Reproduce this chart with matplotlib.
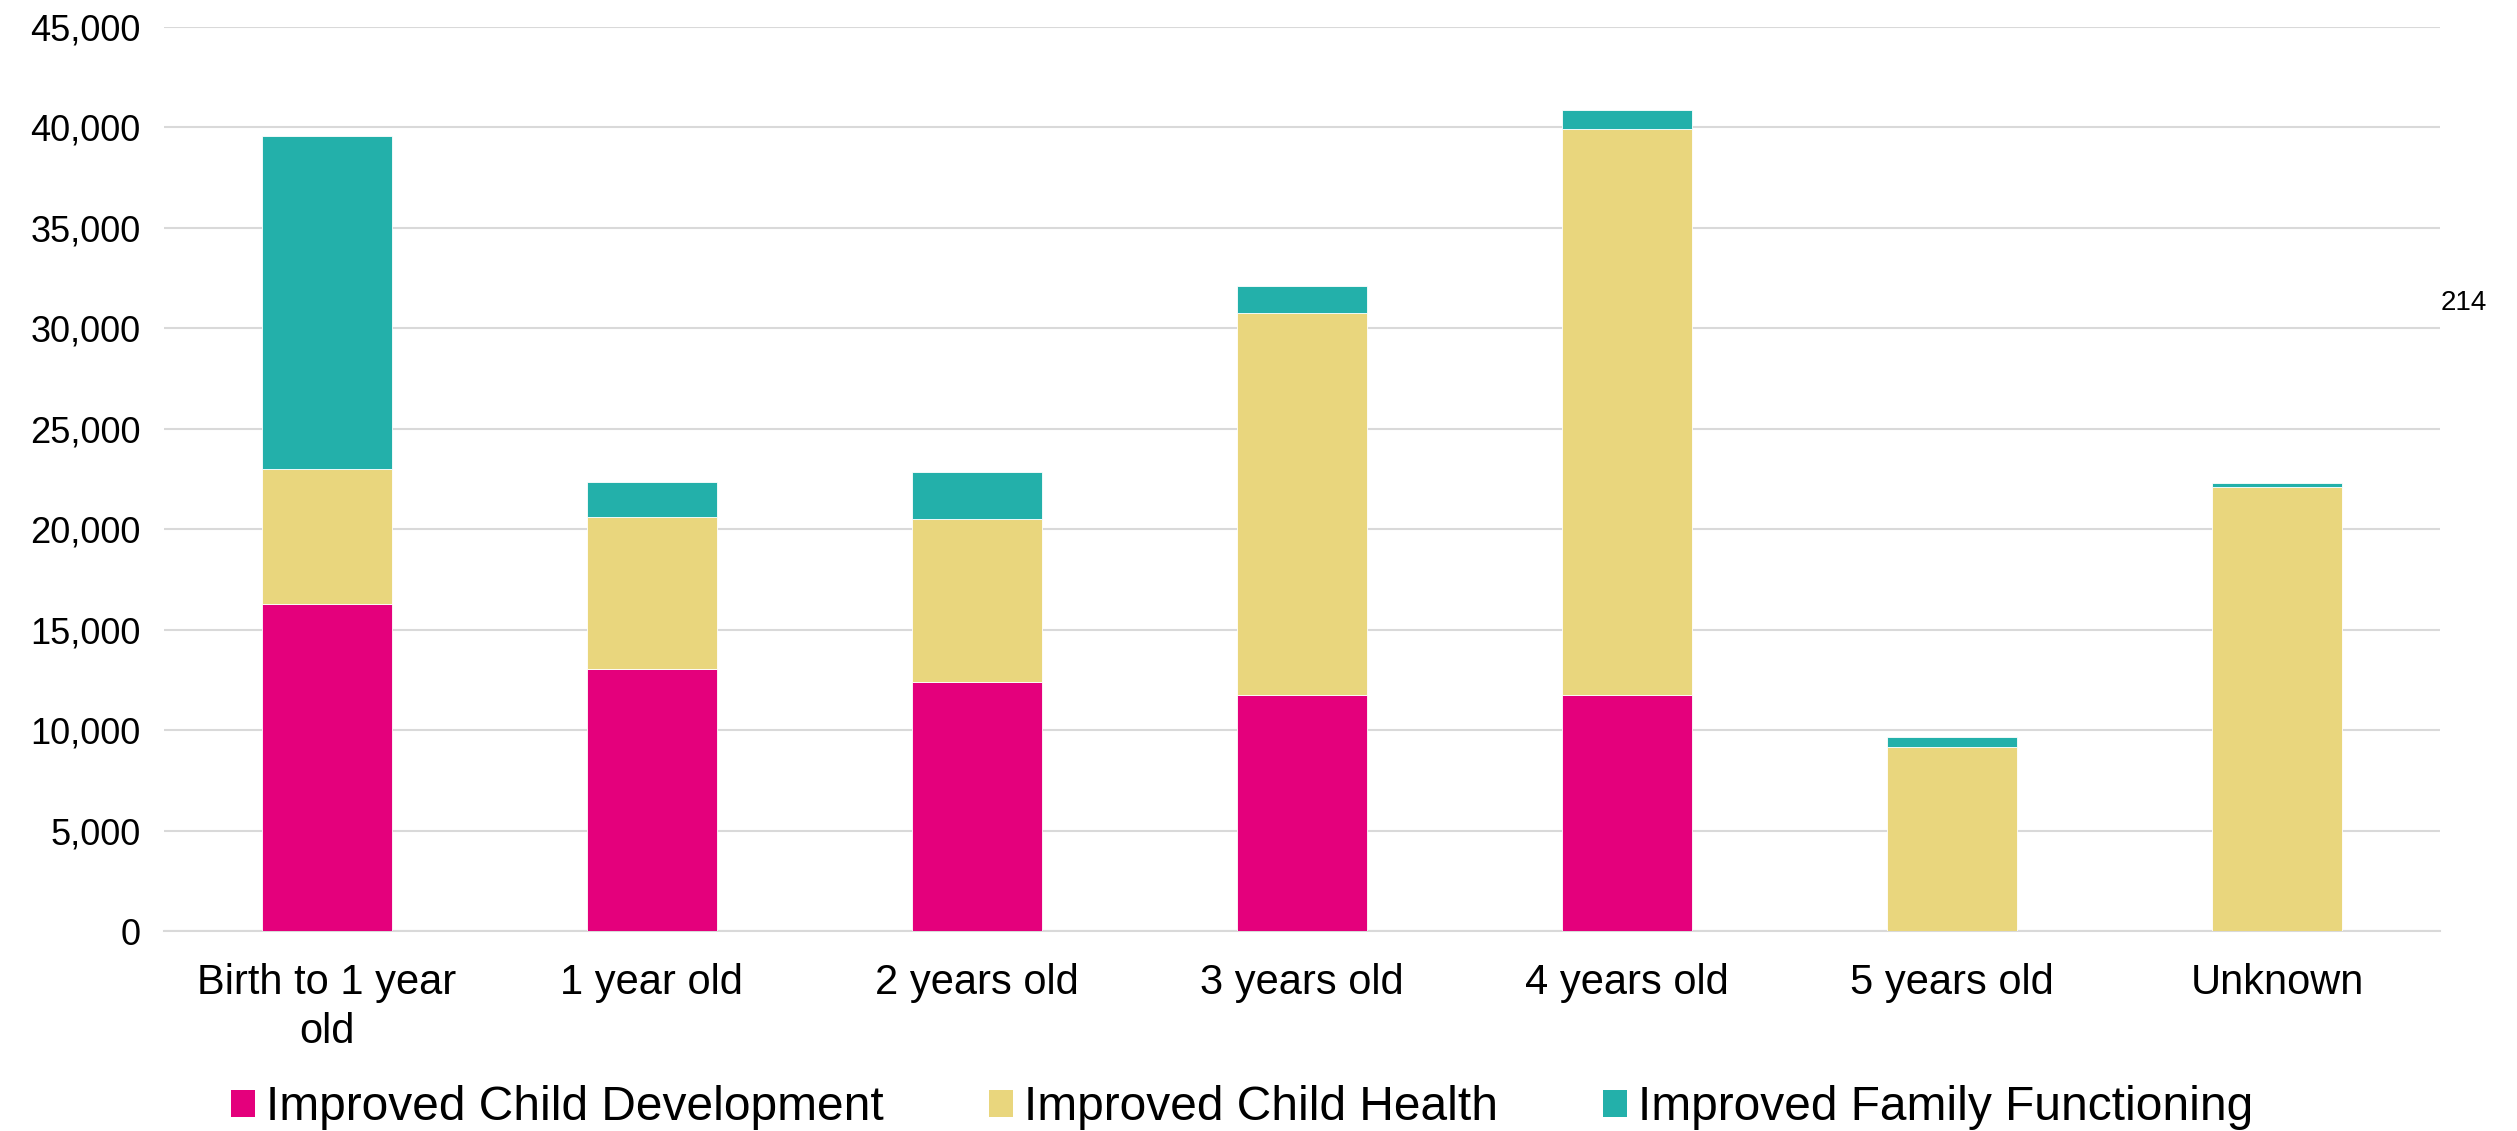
import matplotlib
matplotlib.use("Agg")
import matplotlib.pyplot as plt
from matplotlib.patches import Patch
import numpy as np

plt.rcParams['font.family'] = ['Liberation Sans', 'DejaVu Sans']

# data
categories = ["Birth to 1 year\nold", "1 year old", "2 years old", "3 years old",
              "4 years old", "5 years old", "Unknown"]
child_dev = [16300, 13050, 12400, 11770, 11770, 0, 0]
child_health = [6700, 7570, 8100, 19010, 28130, 9140, 22090]
family_func = [16580, 1740, 2330, 1320, 980, 500, 214]
series_names = ["Improved Child Development", "Improved Child Health",
                "Improved Family Functioning"]
colors = ["#E4007C", "#E9D67D", "#23B0AA"]
yticks = np.arange(0, 45001, 5000)

fig = plt.figure(figsize=(25.17, 11.31), dpi=100)
ax = fig.add_axes([0.0652, 0.1768, 0.9042, 0.7993])

x = np.arange(len(categories))
bottom = np.zeros(len(categories))
for vals, col in zip([child_dev, child_health, family_func], colors):
    ax.bar(x, vals, width=0.4, bottom=bottom, color=col, edgecolor="white",
           linewidth=0.6, zorder=3)
    bottom += np.array(vals)

ax.set_xlim(-0.5, len(categories) - 0.5)
ax.set_ylim(0, 45000)
ax.set_yticks(yticks)
ax.set_yticklabels([f"{v:,}" for v in yticks], fontsize=26)
ax.set_xticks(x)
ax.set_xticklabels(categories, fontsize=30, linespacing=1.3)
ax.tick_params(axis="both", length=0)
ax.tick_params(axis="y", pad=17)
ax.tick_params(axis="x", pad=23)
ax.grid(axis="y", color="#d9d9d9", linewidth=1.5, zorder=0)
for s in ["top", "right", "left"]:
    ax.spines[s].set_visible(False)
ax.spines["bottom"].set_color("#d9d9d9")
ax.spines["bottom"].set_linewidth(1.5)

# stray data label of the last family functioning value
ax.text(1.0005, 0.695, f"{family_func[-1]:,}", transform=ax.transAxes,
        fontsize=20, va="center", ha="left")

handles = [Patch(facecolor=c) for c in colors]
fig.legend(handles, series_names, loc="center", bbox_to_anchor=(0.4935, 0.0205),
           ncol=3, frameon=False, fontsize=34.5, handlelength=0.5,
           handleheight=0.5, handletextpad=0.23, columnspacing=2.2)

fig.savefig("out.png", dpi=100)
